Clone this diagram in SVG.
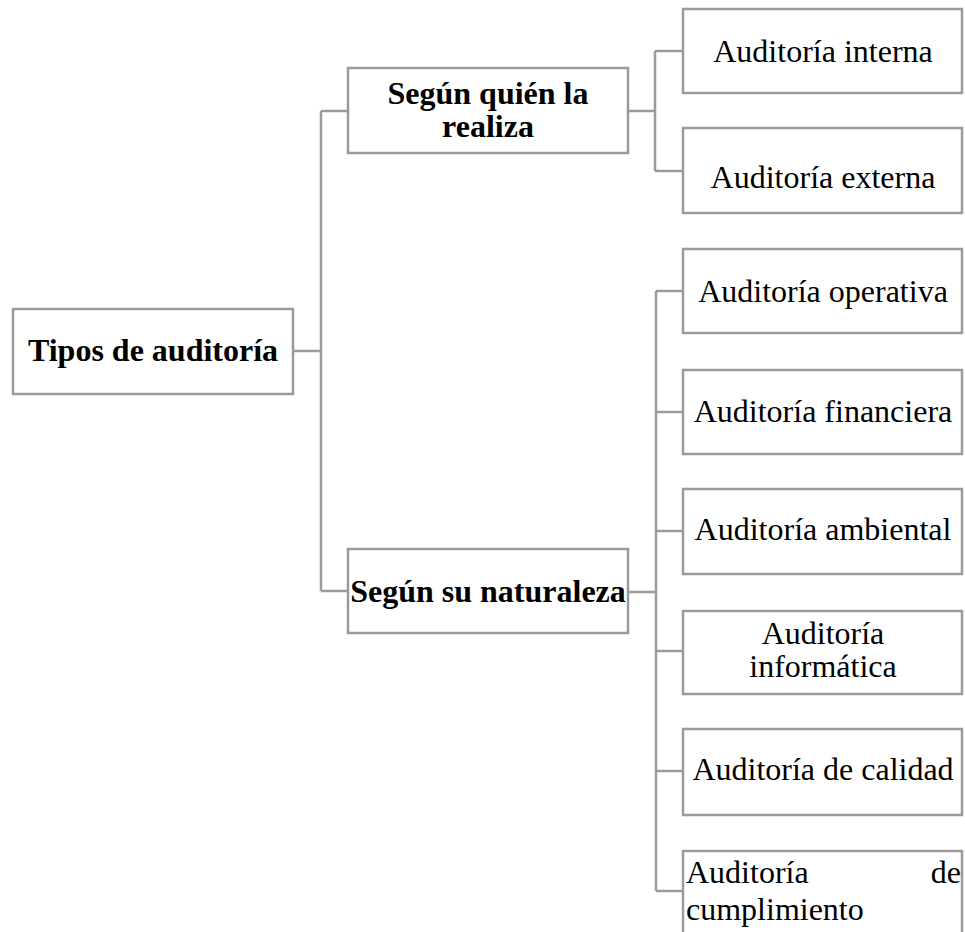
<svg xmlns="http://www.w3.org/2000/svg" width="965" height="932" viewBox="0 0 965 932">
  <style>
    .box { fill: #ffffff; stroke: #9b9b9b; stroke-width: 2.5; }
    .link { fill: none; stroke: #9b9b9b; stroke-width: 2.5; }
    .t { font-family: "Liberation Serif", "Times New Roman", serif; font-size: 32px; fill: #000000; }
    .b { font-weight: bold; }
    .c { text-anchor: middle; }
  </style>
  <rect width="965" height="932" fill="#ffffff"/>

  <!-- connectors -->
  <g id="connectors">
    <path class="link" d="M293 351 H321 M321 111 V591 M321 111 H348 M321 591 H348"/>
    <path class="link" d="M628 111 H655 M655 51 V171 M655 51 H683 M655 171 H683"/>
    <path class="link" d="M628 592 H656 M656 291 V891 M656 291 H683 M656 412 H683 M656 531 H683 M656 651 H683 M656 771 H683 M656 891 H683"/>
  </g>

  <g id="root">
    <rect class="box" x="13" y="309" width="280" height="85"/>
    <text class="t b c" x="153" y="361">Tipos de auditoría</text>
  </g>

  <g id="quien">
    <rect class="box" x="348" y="68" width="280" height="85"/>
    <text class="t b c" x="488" y="104">Según quién la</text>
    <text class="t b c" x="488" y="137">realiza</text>
  </g>

  <g id="naturaleza">
    <rect class="box" x="348" y="549" width="280" height="84"/>
    <text class="t b c" x="488" y="602">Según su naturaleza</text>
  </g>

  <g id="interna">
    <rect class="box" x="683" y="9" width="279" height="84"/>
    <text class="t c" x="823" y="62">Auditoría interna</text>
  </g>

  <g id="externa">
    <rect class="box" x="683" y="128" width="279" height="85"/>
    <text class="t c" x="823" y="188">Auditoría externa</text>
  </g>

  <g id="operativa">
    <rect class="box" x="683" y="249" width="279" height="84"/>
    <text class="t c" x="823" y="302">Auditoría operativa</text>
  </g>

  <g id="financiera">
    <rect class="box" x="683" y="370" width="279" height="84"/>
    <text class="t c" x="823" y="422">Auditoría financiera</text>
  </g>

  <g id="ambiental">
    <rect class="box" x="683" y="489" width="279" height="85"/>
    <text class="t c" x="823" y="540">Auditoría ambiental</text>
  </g>

  <g id="informatica">
    <rect class="box" x="683" y="611" width="279" height="83"/>
    <text class="t c" x="823" y="644">Auditoría</text>
    <text class="t c" x="823" y="677">informática</text>
  </g>

  <g id="calidad">
    <rect class="box" x="683" y="729" width="279" height="86"/>
    <text class="t c" x="823" y="780">Auditoría de calidad</text>
  </g>

  <g id="cumplimiento">
    <rect class="box" x="683" y="851" width="279" height="90"/>
    <text class="t" x="686" y="883">Auditoría</text>
    <text class="t" x="961" y="883" text-anchor="end">de</text>
    <text class="t" x="686" y="920">cumplimiento</text>
  </g>
</svg>
